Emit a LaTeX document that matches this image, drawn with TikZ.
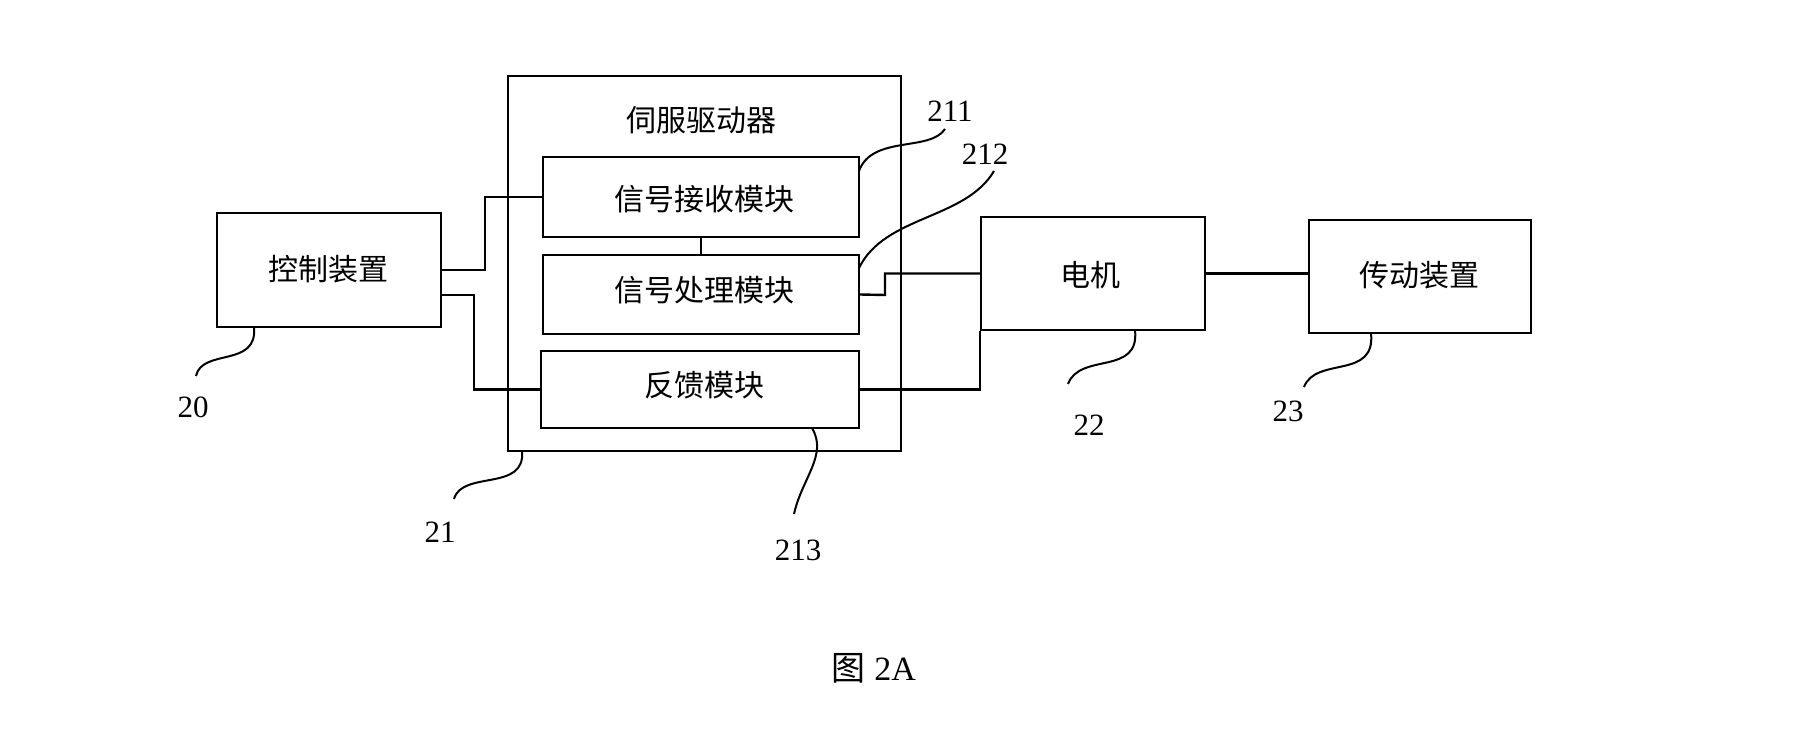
\documentclass[tikz,border=0pt]{standalone}
\usepackage{fontspec}
\setmainfont{Liberation Serif}
\newfontfamily\cjk{Noto Sans CJK SC}
\usetikzlibrary{calc}
\begin{document}
\begin{tikzpicture}[x=1pt,y=-1pt,line width=2.4pt,
  blk/.style={draw,inner sep=0pt,line width=2.4pt},
  cn/.style={font=\cjk\fontsize{30}{32}\selectfont},
  num/.style={font=\fontsize{31}{33}\selectfont,inner sep=0pt},
  lead/.style={line width=2pt}]
\useasboundingbox (0,0) rectangle (1812,754);
% boxes
\node[blk,minimum width=224pt,minimum height=114pt] (ctrl) at (329,270) {};
\node[blk,minimum width=393pt,minimum height=375pt] (servo) at (704.5,263.5) {};
\node[blk,minimum width=316pt,minimum height=80pt] (recv) at (701,197) {};
\node[blk,minimum width=316pt,minimum height=79pt] (proc) at (701,294.5) {};
\node[blk,minimum width=318pt,minimum height=77pt] (fb) at (700,389.5) {};
\node[blk,minimum width=224pt,minimum height=113pt] (motor) at (1093,273.5) {};
\node[blk,minimum width=222pt,minimum height=113pt] (trans) at (1420,276.5) {};
% texts
\node[cn] (tservo) at (701,120) {伺服驱动器};
\node[cn] (tctrl) at (328,269) {控制装置};
\node[cn] (trecv) at (704,199) {信号接收模块};
\node[cn] (tproc) at (704,290) {信号处理模块};
\node[cn] (tfb) at (704,385) {反馈模块};
\node[cn] (tmotor) at (1090,275) {电机};
\node[cn] (ttrans) at (1419,275) {传动装置};
% connectors
\coordinate (c1) at (485,270);
\draw (ctrl.east) -- (c1) |- (recv.west);
\coordinate (c2s) at ($(ctrl.east)+(0,25)$);
\coordinate (c2) at (474,295);
\draw (c2s) -- (c2) |- (fb.west);
\draw (recv.south) -- (proc.north);
\coordinate (c3) at (885,295);
\draw (proc.east) -- (c3) |- (motor.west);
\draw (fb.east) -| (motor.south west);
\draw (motor.east) -- (motor.east -| trans.west);
% leaders
\coordinate (l20) at (254,327); \coordinate (e20) at (196,376);
\draw[lead] (l20) .. controls (258,368) and (202,348) .. (e20);
\node[num] (n20) at (193,407) {20};
\coordinate (l21) at (522,451); \coordinate (e21) at (454,499);
\draw[lead] (l21) .. controls (526,492) and (462,470) .. (e21);
\node[num] (n21) at (440,532) {21};
\coordinate (l211) at (859,171); \coordinate (e211) at (945,129);
\draw[lead] (l211) .. controls (872,135) and (930,152) .. (e211);
\node[num] (n211) at (950,111) {211};
\coordinate (l212) at (859,268); \coordinate (e212) at (994,171);
\draw[lead] (l212) .. controls (885,215) and (965,220) .. (e212);
\node[num] (n212) at (985,154) {212};
\coordinate (l213) at (812,428); \coordinate (e213) at (794,514);
\draw[lead] (l213) .. controls (828,455) and (802,478) .. (e213);
\node[num] (n213) at (798,550) {213};
\coordinate (l22) at (1135,330); \coordinate (e22) at (1068,384);
\draw[lead] (l22) .. controls (1140,376) and (1080,352) .. (e22);
\node[num] (n22) at (1089,425) {22};
\coordinate (l23) at (1371,333); \coordinate (e23) at (1304,387);
\draw[lead] (l23) .. controls (1376,380) and (1316,356) .. (e23);
\node[num] (n23) at (1288,411) {23};
% caption
\node[font=\fontsize{34}{36}\selectfont] (cap) at (874,668) {{\cjk 图} 2A};
\end{tikzpicture}
\end{document}
